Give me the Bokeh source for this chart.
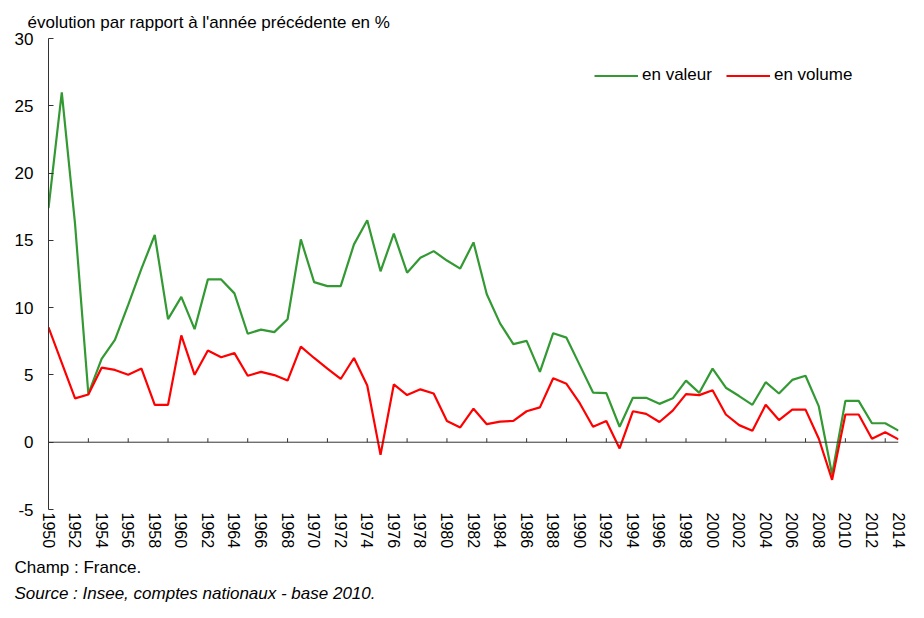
from bokeh.plotting import figure
from bokeh.models import Range1d, FixedTicker, Span, Title, Legend, PrintfTickFormatter
from bokeh.embed import file_html
from bokeh.resources import INLINE

years = list(range(1950, 2015))

en_valeur = [17.4, 26.0, 16.2, 3.6, 6.2, 7.6, 10.2, 12.9, 15.4, 9.15,
             10.8, 8.4, 12.1, 12.1, 11.06, 8.06, 8.37, 8.18, 9.14, 15.07,
             11.9, 11.6, 11.6, 14.7, 16.5, 12.7, 15.5, 12.6, 13.7, 14.2,
             13.5, 12.9, 14.85, 11.0, 8.83, 7.29, 7.53, 5.23, 8.1, 7.77,
             5.73, 3.69, 3.65, 1.15, 3.3, 3.3, 2.85, 3.26, 4.58, 3.67,
             5.47, 4.05, 3.43, 2.78, 4.46, 3.62, 4.63, 4.94, 2.66, -2.4,
             3.07, 3.07, 1.41, 1.41, 0.86]

en_volume = [8.54, 5.9, 3.26, 3.55, 5.54, 5.37, 5.01, 5.47, 2.78, 2.78,
             7.94, 5.01, 6.81, 6.31, 6.62, 4.94, 5.23, 4.99, 4.58, 7.1,
             6.26, 5.47, 4.7, 6.26, 4.22, -0.94, 4.29, 3.5, 3.93, 3.62,
             1.58, 1.1, 2.49, 1.34, 1.53, 1.58, 2.3, 2.59, 4.75, 4.34,
             2.9, 1.15, 1.58, -0.46, 2.3, 2.11, 1.5, 2.35, 3.57, 3.5,
             3.86, 2.06, 1.27, 0.86, 2.78, 1.65, 2.42, 2.42, 0.26, -2.8,
             2.06, 2.06, 0.26, 0.74, 0.21]

x_label_years = years[::2]
x_tick_years = years[3::3]
y_ticks = [-5, 0, 5, 10, 15, 20, 25, 30]

title_text = "évolution par rapport à l'année précédente en %"
note_text = "Champ : France."
source_text = "Source : Insee, comptes nationaux - base 2010."

FONT = "Liberation Sans"
FS = "17px"
FS_TICK = "16px"
AXIS_COLOR = "#333333"

p = figure(width=908, height=602, output_backend="svg", toolbar_location=None,
           x_range=Range1d(1950, 2014), y_range=Range1d(-5, 30),
           min_border_left=48, min_border_right=10, min_border_top=38,
           min_border_bottom=90)
p.outline_line_color = None
p.grid.visible = False

# y axis
ya = p.yaxis[0]
ya.ticker = FixedTicker(ticks=y_ticks)
ya.formatter = PrintfTickFormatter(format="%d")
ya.axis_line_color = AXIS_COLOR
ya.major_tick_line_color = AXIS_COLOR
ya.major_tick_in = 5
ya.major_tick_out = 0
ya.minor_tick_line_color = None
ya.major_label_standoff = 15
ya.major_label_text_font = FONT
ya.major_label_text_font_size = FS
ya.major_label_text_color = "black"

# x axis (labels only, at bottom)
xa = p.xaxis[0]
xa.ticker = FixedTicker(ticks=x_label_years)
xa.formatter = PrintfTickFormatter(format="%d")
xa.axis_line_color = None
xa.major_tick_line_color = None
xa.minor_tick_line_color = None
xa.major_tick_in = 0
xa.major_tick_out = 0
xa.major_label_standoff = 3
xa.major_label_orientation = "vertical"
xa.major_label_text_font = FONT
xa.major_label_text_font_size = FS_TICK
xa.major_label_text_color = "black"

# horizontal axis line at zero with upward ticks
p.add_layout(Span(location=0, dimension="width", line_color=AXIS_COLOR, line_width=1))
p.ray(x=x_tick_years, y=[0] * len(x_tick_years), length=4, length_units="screen",
      angle=1.5707963, line_color=AXIS_COLOR, line_width=1)

r1 = p.line(years, en_valeur, line_color="#339933", line_width=2.2)
r2 = p.line(years, en_volume, line_color="#ff0000", line_width=2.2)

legend = Legend(items=[("en valeur", [r1]), ("en volume", [r2])],
                orientation="horizontal", location=(546, 424),
                padding=0, margin=0, spacing=14, label_standoff=4,
                glyph_width=44, glyph_height=17,
                border_line_color=None, background_fill_alpha=0,
                label_text_font=FONT, label_text_font_size=FS,
                label_text_color="black")
p.add_layout(legend, "center")

t = Title(text=title_text, align="left", offset=-21, standoff=14,
          text_font=FONT, text_font_size=FS, text_font_style="normal",
          text_color="black")
p.add_layout(t, "above")

n1 = Title(text=note_text, align="left", offset=-34, standoff=9,
           text_font=FONT, text_font_size=FS, text_font_style="normal",
           text_color="black")
p.add_layout(n1, "below")
n2 = Title(text=source_text, align="left", offset=-34, standoff=0,
           text_font=FONT, text_font_size=FS, text_font_style="italic",
           text_color="black")
p.add_layout(n2, "below")

open("out.html", "w").write(file_html(p, INLINE))
